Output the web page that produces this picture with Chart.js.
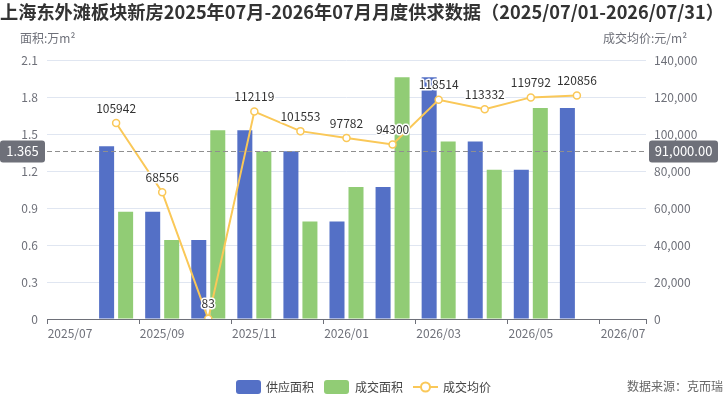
<!DOCTYPE html>
<html>
<head>
<meta charset="utf-8">
<script src="https://cdn.jsdelivr.net/npm/chart.js@4.4.0/dist/chart.umd.min.js"></script>
<style>
  body { margin: 0; background: #fff; }
</style>
</head>
<body>
<canvas id="myChart" width="728" height="400"></canvas>
<script>
const months = ["2025/07", "2025/08", "2025/09", "2025/10", "2025/11", "2025/12", "2026/01",
  "2026/02", "2026/03", "2026/04", "2026/05", "2026/06", "2026/07"];
const supplyArea = [null, 1.40, 0.87, 0.64, 1.53, 1.36, 0.79, 1.07, 1.96, 1.44, 1.21, 1.71, null];
const dealArea = [null, 0.87, 0.64, 1.53, 1.36, 0.79, 1.07, 1.96, 1.44, 1.21, 1.71, null, null];
const avgPrice = [null, 105942, 68556, 83, 112119, 101553, 97782, 94300, 118514, 113332, 119792, 120856, null];
const areaMark = 1.365;
const priceMark = 91000;
const areaMarkLabel = "1.365";
const priceMarkLabel = "91,000.00";

const FONT = "'Noto Sans CJK SC', 'Noto Sans', sans-serif";
const AXIS = "#6e7079";
const BLUE = "#5470c6";
const GREEN = "#91cc75";
const YELLOW = "#fac858";

function roundRect(ctx, x, y, w, h, r) {
  ctx.beginPath();
  ctx.moveTo(x + r, y);
  ctx.arcTo(x + w, y, x + w, y + h, r);
  ctx.arcTo(x + w, y + h, x, y + h, r);
  ctx.arcTo(x, y + h, x, y, r);
  ctx.arcTo(x, y, x + w, y, r);
  ctx.closePath();
}

const extras = {
  id: "extras",
  afterDatasetsDraw(chart) {
    const ctx = chart.ctx;
    const area = chart.chartArea;
    const yA = chart.scales.y;

    // mark line (average)
    const my = Math.round(yA.getPixelForValue(areaMark)) + 0.5;
    ctx.save();
    ctx.strokeStyle = "#8f8f8f";
    ctx.lineWidth = 1;
    ctx.setLineDash([5, 3]);
    ctx.beginPath();
    ctx.moveTo(area.left, my);
    ctx.lineTo(area.right, my);
    ctx.stroke();
    ctx.setLineDash([]);

    ctx.fillStyle = "#6e7079";
    roundRect(ctx, 0, my - 11, 45, 22, 3);
    ctx.fill();
    roundRect(ctx, 649, my - 11, 69, 22, 3);
    ctx.fill();
    ctx.fillStyle = "#fff";
    ctx.font = "13px " + FONT;
    ctx.textAlign = "center";
    ctx.textBaseline = "middle";
    ctx.fillText(areaMarkLabel, 22.5, my);
    ctx.fillText(priceMarkLabel, 683.5, my);

    // value labels on the price line
    const meta = chart.getDatasetMeta(2);
    ctx.font = "12px " + FONT;
    ctx.lineJoin = "round";
    meta.data.forEach((pt, i) => {
      if (avgPrice[i] === null) return;
      ctx.strokeStyle = "#fff";
      ctx.lineWidth = 3;
      ctx.strokeText(String(avgPrice[i]), pt.x, pt.y - 15);
      ctx.fillStyle = "#333";
      ctx.fillText(String(avgPrice[i]), pt.x, pt.y - 15);
    });
    ctx.restore();
  },
  afterDraw(chart) {
    const ctx = chart.ctx;
    ctx.save();
    ctx.textBaseline = "middle";

    ctx.fillStyle = "#333";
    ctx.font = "bold 18.2px " + FONT;
    ctx.textAlign = "left";
    ctx.fillText("上海东外滩板块新房2025年07月-2026年07月月度供求数据（2025/07/01-2026/07/31）", 0, 12);

    ctx.fillStyle = AXIS;
    ctx.font = "12px " + FONT;
    ctx.fillText("面积:万m²", 20, 38);
    ctx.fillText("成交均价:元/m²", 603, 38);

    ctx.textAlign = "right";
    ctx.fillStyle = "#666";
    ctx.fillText("数据来源：克而瑞", 723, 386);

    // legend
    ctx.textAlign = "left";
    const ly = 387;
    ctx.fillStyle = BLUE;
    roundRect(ctx, 236, ly - 7, 25, 14, 3);
    ctx.fill();
    ctx.fillStyle = GREEN;
    roundRect(ctx, 324, ly - 7, 25, 14, 3);
    ctx.fill();
    ctx.strokeStyle = YELLOW;
    ctx.lineWidth = 2;
    ctx.beginPath();
    ctx.moveTo(413, ly);
    ctx.lineTo(438, ly);
    ctx.stroke();
    ctx.beginPath();
    ctx.arc(425.5, ly, 4.5, 0, Math.PI * 2);
    ctx.fillStyle = "#fff";
    ctx.fill();
    ctx.stroke();
    ctx.fillStyle = "#444";
    ctx.fillText("供应面积", 266, ly);
    ctx.fillText("成交面积", 355, ly);
    ctx.fillText("成交均价", 443, ly);
    ctx.restore();
  }
};

Chart.defaults.font.family = FONT;
Chart.defaults.font.size = 12;
Chart.defaults.color = AXIS;

new Chart(document.getElementById("myChart"), {
  type: "bar",
  data: {
    labels: months,
    datasets: [
      {
        label: "供应面积",
        data: supplyArea,
        backgroundColor: BLUE,
        yAxisID: "y",
        order: 1,
        categoryPercentage: 0.825,
        barPercentage: 0.79,
      },
      {
        label: "成交面积",
        data: dealArea,
        backgroundColor: GREEN,
        yAxisID: "y",
        order: 1,
        categoryPercentage: 0.825,
        barPercentage: 0.79,
      },
      {
        type: "line",
        label: "成交均价",
        data: avgPrice,
        yAxisID: "y1",
        order: 0,
        borderColor: YELLOW,
        borderWidth: 2,
        tension: 0,
        pointRadius: 3.5,
        pointBorderWidth: 1.5,
        pointBackgroundColor: "#fff",
        pointBorderColor: YELLOW,
      },
    ],
  },
  options: {
    responsive: false,
    animation: false,
    devicePixelRatio: 1,
    locale: "en-US",
    layout: { padding: { top: 60, left: 0, right: 0, bottom: 0 } },
    plugins: {
      legend: { display: false },
      tooltip: { enabled: false },
      title: { display: false },
    },
    events: [],
    scales: {
      x: {
        offset: true,
        afterFit: (s) => { s.height = 81; },
        border: { color: AXIS, width: 1 },
        grid: {
          offset: true,
          drawOnChartArea: false,
          drawTicks: true,
          tickLength: 5,
          color: (c) => (c.index === undefined || c.index % 2 === 0 ? AXIS : "rgba(0,0,0,0)"),
        },
        ticks: {
          autoSkip: false,
          maxRotation: 0,
          padding: 2,
          color: AXIS,
          callback: (v, i) => (i % 2 === 0 ? months[i] : ""),
        },
      },
      y: {
        position: "left",
        min: 0,
        max: 2.1,
        afterFit: (s) => { s.width = 47; },
        border: { display: false },
        grid: { color: "#e0e6f1", drawTicks: false },
        ticks: { stepSize: 0.3, padding: 9, color: AXIS },
      },
      y1: {
        position: "right",
        min: 0,
        max: 140000,
        afterFit: (s) => { s.width = 82; },
        border: { display: false },
        grid: { drawOnChartArea: false, drawTicks: false },
        ticks: { stepSize: 20000, padding: 8, color: AXIS },
      },
    },
  },
  plugins: [extras],
});
</script>
</body>
</html>
